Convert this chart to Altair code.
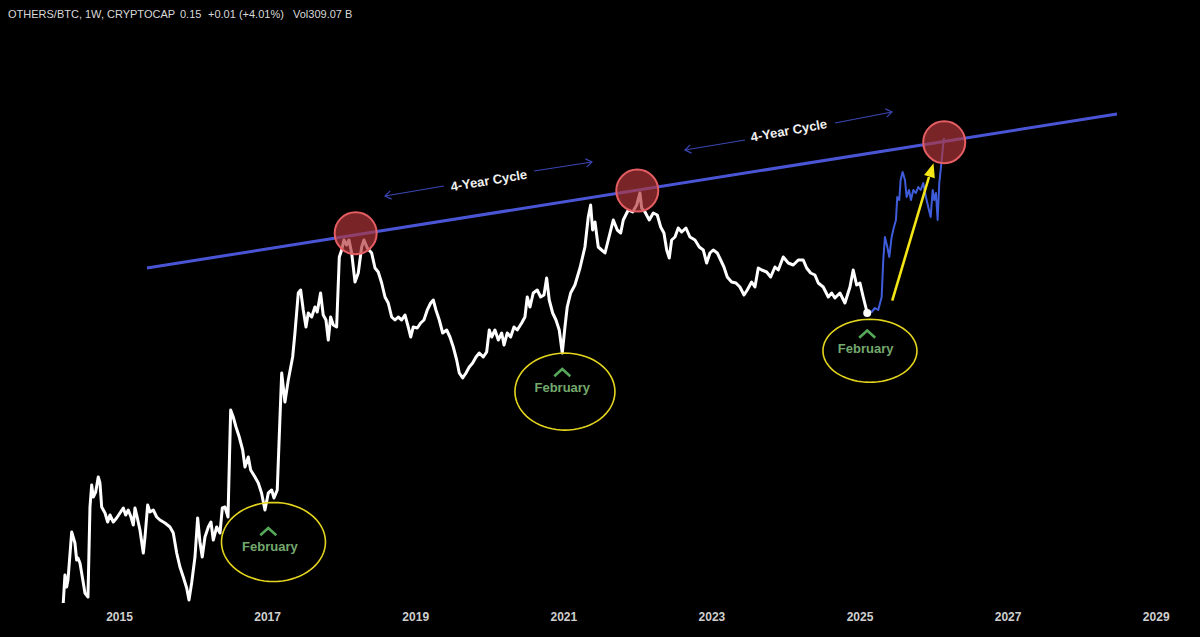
import altair as alt
import pandas as pd
import numpy as np

# ---------------- data (time in decimal years, level = OTHERS/BTC-like index) ----------------
white_t = [2014.247, 2014.270, 2014.293, 2014.311, 2014.361, 2014.405, 2014.428, 2014.446, 2014.473, 2014.518,
           2014.540, 2014.581, 2014.608, 2014.631, 2014.653, 2014.685, 2014.720, 2014.743, 2014.766, 2014.811,
           2014.847, 2014.878, 2014.923, 2014.968, 2015.013, 2015.058, 2015.090, 2015.125, 2015.162, 2015.193,
           2015.216, 2015.239, 2015.283, 2015.328, 2015.351, 2015.387, 2015.418, 2015.463, 2015.509, 2015.553,
           2015.621, 2015.688, 2015.733, 2015.779, 2015.823, 2015.868, 2015.914, 2015.945, 2015.981, 2016.026,
           2016.062, 2016.093, 2016.124, 2016.161, 2016.206, 2016.242, 2016.273, 2016.319, 2016.364, 2016.395,
           2016.431, 2016.472, 2016.508, 2016.543, 2016.580, 2016.624, 2016.670, 2016.701, 2016.746, 2016.778,
           2016.836, 2016.881, 2016.925, 2016.971, 2017.016, 2017.062, 2017.093, 2017.137, 2017.174, 2017.197,
           2017.241, 2017.286, 2017.345, 2017.376, 2017.421, 2017.453, 2017.488, 2017.525, 2017.556, 2017.602,
           2017.646, 2017.677, 2017.722, 2017.758, 2017.795, 2017.826, 2017.858, 2017.894, 2017.939, 2017.975,
           2018.007, 2018.038, 2018.074, 2018.106, 2018.142, 2018.187, 2018.231, 2018.277, 2018.308, 2018.353,
           2018.412, 2018.457, 2018.501, 2018.547, 2018.592, 2018.636, 2018.682, 2018.727, 2018.771, 2018.817,
           2018.862, 2018.906, 2018.939, 2018.974, 2019.028, 2019.074, 2019.118, 2019.163, 2019.209, 2019.244,
           2019.280, 2019.325, 2019.371, 2019.425, 2019.469, 2019.514, 2019.560, 2019.595, 2019.641, 2019.686,
           2019.730, 2019.776, 2019.821, 2019.865, 2019.919, 2019.965, 2020.000, 2020.033, 2020.077, 2020.122,
           2020.168, 2020.199, 2020.243, 2020.289, 2020.334, 2020.378, 2020.438, 2020.482, 2020.513, 2020.550,
           2020.594, 2020.648, 2020.694, 2020.739, 2020.775, 2020.810, 2020.856, 2020.901, 2020.945, 2020.986,
           2021.022, 2021.053, 2021.099, 2021.157, 2021.225, 2021.292, 2021.337, 2021.369, 2021.396, 2021.428,
           2021.472, 2021.518, 2021.563, 2021.607, 2021.675, 2021.729, 2021.775, 2021.810, 2021.877, 2021.937,
           2021.991, 2022.035, 2022.058, 2022.103, 2022.161, 2022.215, 2022.269, 2022.315, 2022.359, 2022.396,
           2022.431, 2022.463, 2022.508, 2022.552, 2022.598, 2022.656, 2022.710, 2022.778, 2022.836, 2022.890,
           2022.936, 2022.980, 2023.025, 2023.079, 2023.125, 2023.169, 2023.214, 2023.273, 2023.331, 2023.385,
           2023.440, 2023.484, 2023.543, 2023.588, 2023.633, 2023.679, 2023.746, 2023.800, 2023.858, 2023.903,
           2023.970, 2024.038, 2024.105, 2024.173, 2024.240, 2024.286, 2024.340, 2024.398, 2024.443, 2024.510,
           2024.578, 2024.624, 2024.668, 2024.736, 2024.803, 2024.871, 2024.915, 2024.961, 2025.006, 2025.050,
           2025.104]
white_v = [0.0010, 0.0150, 0.0090, 0.0125, 0.0365, 0.0310, 0.0225, 0.0235, 0.0210, 0.0110,
           0.0060, 0.0040, 0.0490, 0.0600, 0.0540, 0.0565, 0.0640, 0.0610, 0.0490, 0.0460,
           0.0415, 0.0450, 0.0415, 0.0435, 0.0460, 0.0485, 0.0450, 0.0475, 0.0440, 0.0400,
           0.0485, 0.0450, 0.0375, 0.0260, 0.0340, 0.0500, 0.0465, 0.0475, 0.0440, 0.0425,
           0.0410, 0.0390, 0.0360, 0.0260, 0.0190, 0.0140, 0.0085, 0.0025, 0.0110, 0.0240,
           0.0435, 0.0315, 0.0240, 0.0340, 0.0390, 0.0415, 0.0325, 0.0390, 0.0360, 0.0485,
           0.0490, 0.0440, 0.0975, 0.0940, 0.0890, 0.0840, 0.0775, 0.0690, 0.0740, 0.0675,
           0.0640, 0.0610, 0.0560, 0.0475, 0.0560, 0.0575, 0.0535, 0.0575, 0.0940, 0.1160,
           0.1015, 0.1125, 0.1240, 0.1360, 0.1560, 0.1575, 0.1475, 0.1390, 0.1460, 0.1440,
           0.1490, 0.1465, 0.1560, 0.1450, 0.1425, 0.1325, 0.1440, 0.1400, 0.1390, 0.1740,
           0.1775, 0.1825, 0.1800, 0.1825, 0.1760, 0.1615, 0.1660, 0.1790, 0.1825, 0.1785,
           0.1760, 0.1685, 0.1665, 0.1610, 0.1540, 0.1510, 0.1440, 0.1425, 0.1440, 0.1425,
           0.1450, 0.1390, 0.1340, 0.1390, 0.1385, 0.1410, 0.1425, 0.1475, 0.1510, 0.1525,
           0.1475, 0.1425, 0.1360, 0.1375, 0.1340, 0.1290, 0.1225, 0.1160, 0.1135, 0.1160,
           0.1190, 0.1210, 0.1240, 0.1260, 0.1240, 0.1265, 0.1375, 0.1340, 0.1375, 0.1325,
           0.1360, 0.1300, 0.1360, 0.1340, 0.1390, 0.1375, 0.1410, 0.1440, 0.1540, 0.1490,
           0.1560, 0.1575, 0.1540, 0.1550, 0.1635, 0.1525, 0.1460, 0.1425, 0.1375, 0.1260,
           0.1390, 0.1490, 0.1560, 0.1600, 0.1685, 0.1790, 0.1940, 0.2000, 0.1875, 0.1915,
           0.1790, 0.1775, 0.1760, 0.1825, 0.1925, 0.1875, 0.1860, 0.1925, 0.1975, 0.1965,
           0.2000, 0.2060, 0.1985, 0.1965, 0.1925, 0.1960, 0.1950, 0.1890, 0.1860, 0.1775,
           0.1735, 0.1825, 0.1840, 0.1885, 0.1865, 0.1885, 0.1840, 0.1825, 0.1790, 0.1775,
           0.1710, 0.1760, 0.1775, 0.1760, 0.1725, 0.1690, 0.1640, 0.1615, 0.1610, 0.1590,
           0.1550, 0.1575, 0.1615, 0.1590, 0.1685, 0.1675, 0.1665, 0.1640, 0.1690, 0.1675,
           0.1740, 0.1710, 0.1700, 0.1725, 0.1725, 0.1685, 0.1660, 0.1650, 0.1610, 0.1590,
           0.1540, 0.1560, 0.1535, 0.1560, 0.1510, 0.1590, 0.1675, 0.1600, 0.1610, 0.1540,
           0.1460]

proj_t = [2025.104, 2025.164, 2025.208, 2025.253, 2025.299, 2025.321, 2025.343, 2025.375, 2025.402, 2025.434,
          2025.465, 2025.492, 2025.510, 2025.537, 2025.555, 2025.582, 2025.614, 2025.636, 2025.668, 2025.695,
          2025.726, 2025.762, 2025.793, 2025.825, 2025.861, 2025.897, 2025.928, 2025.961, 2025.988, 2026.009,
          2026.032, 2026.055, 2026.077, 2026.100, 2026.123, 2026.140]
proj_v = [0.1460, 0.1465, 0.1485, 0.1475, 0.1540, 0.1725, 0.1840, 0.1790, 0.1740, 0.1840,
          0.1890, 0.1925, 0.2040, 0.2025, 0.2125, 0.2165, 0.2125, 0.2040, 0.2075, 0.2025,
          0.2075, 0.2060, 0.2090, 0.2075, 0.2110, 0.2040, 0.1990, 0.1940, 0.2075, 0.2025,
          0.2060, 0.1925, 0.2110, 0.2190, 0.2275, 0.2335]

trend_t = [2015.378]
trend_v = [0.1685]
trend_t2 = [2028.477]
trend_v2 = [0.2455]

top_t = [2018.196, 2021.999, 2026.144]
top_v = [0.1859, 0.2072, 0.2314]

low_label = ["February", "February", "February"]
low_text_t = [2017.038, 2020.986, 2025.083]
low_text_v = [0.0290, 0.1084, 0.1279]
caret_t = [2017.016, 2020.986, 2025.104]
caret_v = [0.0367, 0.1162, 0.1354]
ellipse_t = [2017.086, 2021.022, 2025.141]
ellipse_v = [0.0315, 0.1067, 0.1271]

cycle_label = ["4-Year Cycle", "4-Year Cycle"]
cycle_t = [2019.996, 2024.047]
cycle_v = [0.2120, 0.2370]
cycle_seg_t = [2018.592, 2020.604, 2022.643, 2024.668]
cycle_seg_v = [0.2045, 0.2170, 0.2275, 0.2410]
cycle_seg_t2 = [2019.388, 2021.387, 2023.453, 2025.438]
cycle_seg_v2 = [0.2095, 0.2215, 0.2325, 0.2465]

yellow_t = [2025.442]
yellow_v = [0.1522]
yellow_t2 = [2025.938]
yellow_v2 = [0.2140]
yellow_head_t = [2025.972]
yellow_head_v = [0.2175]

year_ticks = [2015, 2017, 2019, 2021, 2023, 2025, 2027, 2029]
title_parts = ["OTHERS/BTC, 1W, CRYPTOCAP", "0.15", "+0.01 (+4.01%)", "Vol309.07 B"]

# ---------------- frames ----------------
white_df = pd.DataFrame({"t": white_t, "v": white_v})
proj_df = pd.DataFrame({"t": proj_t, "v": proj_v})
trend_df = pd.DataFrame({"t": trend_t, "v": trend_v, "t2": trend_t2, "v2": trend_v2})
top_df = pd.DataFrame({"t": top_t, "v": top_v})
lowtext_df = pd.DataFrame({"t": low_text_t, "v": low_text_v, "label": low_label})
caret_df = pd.DataFrame({"t": caret_t, "v": caret_v})
seg_df = pd.DataFrame({"t": cycle_seg_t, "v": cycle_seg_v, "t2": cycle_seg_t2, "v2": cycle_seg_v2})
yellow_df = pd.DataFrame({"t": yellow_t, "v": yellow_v, "t2": yellow_t2, "v2": yellow_v2})
yhead_df = pd.DataFrame({"t": yellow_head_t, "v": yellow_head_v})
dot_df = pd.DataFrame({"t": [white_t[-1]], "v": [white_v[-1]]})

xs = alt.Scale(domain=[2013.393, 2029.598], nice=False, zero=False)
ys = alt.Scale(domain=[-0.016, 0.3025], nice=False, zero=False)
xaxis = alt.Axis(values=year_ticks, format="d", ticks=False, domain=False, grid=False,
                 labelColor="#cfcfcf", labelFont="Liberation Sans", labelFontSize=12,
                 labelFontWeight="bold", labelPadding=6, offset=-32, labelFlush=False, title=None)
X = alt.X("t:Q", scale=xs, axis=xaxis)
Y = alt.Y("v:Q", scale=ys, axis=None)


def ellipse_path(k, n=72):
    a = np.linspace(0, 2 * np.pi, n, endpoint=False)
    pts = [f"{np.cos(x):.4f} {k * np.sin(x):.4f}" for x in a]
    return "M " + " L ".join(pts) + " Z"


layers = []
# trend line
layers.append(alt.Chart(trend_df).mark_rule(color="#4a55d6", strokeWidth=3).encode(
    x=X, y=Y, x2="t2:Q", y2="v2:Q"))
# 4-year-cycle arrows
layers.append(alt.Chart(seg_df).mark_rule(color="#3a46b4", strokeWidth=1.2).encode(
    x=X, y=Y, x2="t2:Q", y2="v2:Q"))
left_heads = pd.DataFrame({"t": [cycle_seg_t[0], cycle_seg_t[2]], "v": [cycle_seg_v[0], cycle_seg_v[2]]})
right_heads = pd.DataFrame({"t": [cycle_seg_t2[1], cycle_seg_t2[3]], "v": [cycle_seg_v2[1], cycle_seg_v2[3]]})
layers.append(alt.Chart(left_heads).mark_point(shape="M 1 -0.7 L 0 0 L 1 0.7", size=144, filled=False,
                                               stroke="#3a46b4", strokeWidth=1.2, opacity=1, angle=350).encode(x=X, y=Y))
layers.append(alt.Chart(right_heads).mark_point(shape="M -1 -0.7 L 0 0 L -1 0.7", size=144, filled=False,
                                                stroke="#3a46b4", strokeWidth=1.2, opacity=1, angle=350).encode(x=X, y=Y))
# price line
layers.append(alt.Chart(white_df).mark_line(color="#ffffff", strokeWidth=3, strokeJoin="round").encode(
    x=X, y=Y, order="t:Q"))
layers.append(alt.Chart(proj_df).mark_line(color="#3f5ddb", strokeWidth=2, strokeJoin="round").encode(
    x=X, y=Y, order="t:Q"))
# red circles at cycle tops
layers.append(alt.Chart(top_df).mark_point(shape="circle", size=1764, filled=True, fill="#b3363a",
                                           fillOpacity=0.68, stroke="#e35d62", strokeWidth=2,
                                           strokeOpacity=1, opacity=1).encode(x=X, y=Y))
# yellow ellipses
ell_specs = [(0.76, 10816), (0.77, 10000), (0.67, 8836)]
for i, (k, sz) in enumerate(ell_specs):
    d = pd.DataFrame({"t": [ellipse_t[i]], "v": [ellipse_v[i]]})
    layers.append(alt.Chart(d).mark_point(shape=ellipse_path(k), size=sz, filled=False,
                                          stroke="#e3d41e", strokeWidth=1.6, opacity=1).encode(x=X, y=Y))
# carets and February labels
layers.append(alt.Chart(caret_df).mark_point(shape="M -1 0.45 L 0 -0.45 L 1 0.45", size=256, filled=False,
                                             stroke="#55a85a", strokeWidth=2.6, opacity=1).encode(x=X, y=Y))
layers.append(alt.Chart(lowtext_df).mark_text(font="Liberation Sans", fontSize=13, fontWeight="bold",
                                              color="#73a96c", baseline="middle", align="center").encode(
    x=X, y=Y, text="label:N"))
# 4-Year Cycle texts
for i, ang in enumerate([350.6, 349.8]):
    d = pd.DataFrame({"t": [cycle_t[i]], "v": [cycle_v[i]], "label": [cycle_label[i]]})
    layers.append(alt.Chart(d).mark_text(font="Liberation Sans", fontSize=13, fontWeight="bold",
                                         color="#f0f0f0", baseline="middle", align="center", angle=ang).encode(
        x=X, y=Y, text="label:N"))
# yellow arrow
layers.append(alt.Chart(yellow_df).mark_rule(color="#f3e516", strokeWidth=2.6).encode(
    x=X, y=Y, x2="t2:Q", y2="v2:Q"))
layers.append(alt.Chart(yhead_df).mark_point(shape="M 0 -1 L 0.8 1 L -0.8 1 Z", size=196, filled=True,
                                             fill="#f3e516", strokeWidth=0, opacity=1, angle=17).encode(x=X, y=Y))
# end dot
layers.append(alt.Chart(dot_df).mark_point(shape="circle", size=64, filled=True, fill="#ffffff",
                                           opacity=1).encode(x=X, y=Y))
# header text
title_x = [8, 180, 208, 293]
for txt, xp in zip(title_parts, title_x):
    layers.append(alt.Chart(pd.DataFrame({"a": [0]})).mark_text(
        font="Liberation Sans", fontSize=11, color="#d9d9d9", align="left", baseline="middle").encode(
        x=alt.value(xp), y=alt.value(15), text=alt.value(txt)))

chart = alt.layer(*layers).properties(
    width=1200, height=637,
    autosize=alt.AutoSizeParams(type="none"),
    padding=0,
    background="#000000",
).configure_view(stroke=None)

chart.save("out.html", embed_options={"renderer": "svg", "actions": False})
